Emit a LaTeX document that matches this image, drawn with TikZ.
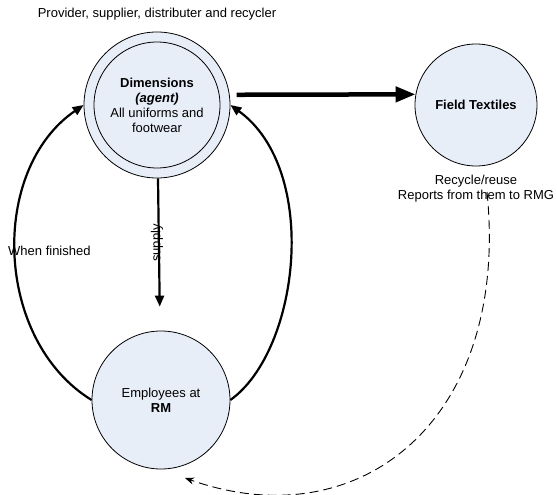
\documentclass[tikz,border=0pt]{standalone}
\usepackage{fontspec}
\setmainfont{Liberation Sans}
\usetikzlibrary{arrows.meta}
\definecolor{cfill}{RGB}{232,238,248}
\begin{document}
\begin{tikzpicture}[x=1pt,y=-1pt,
  circ/.style={circle,draw=black,line width=0.8pt,fill=cfill,inner sep=0pt,align=center,font=\fontsize{13}{15}\selectfont},
  lbl/.style={align=center,font=\fontsize{13}{15}\selectfont,inner sep=0pt},
  conn/.style={line width=2.2pt,-{Triangle[length=11pt,width=9pt]}},
  bigconn/.style={line width=4.5pt,-{Triangle[length=20pt,width=15pt]}},
  dashconn/.style={line width=0.9pt,dash pattern=on 9pt off 5pt,-{Stealth[length=9pt,width=7pt]}}
]
\useasboundingbox (0,0) rectangle (557,495);
\node[circ,minimum size=146pt] (dim) at (157,105) {};
\node[circ,minimum size=126pt] (dimin) at (157,105) {\textbf{Dimensions}\\\textbf{\textit{(agent)}}\\All uniforms and\\footwear};
\node[circ,minimum size=122pt] (ft) at (476,105) {\textbf{Field Textiles}};
\node[circ,minimum size=138pt] (emp) at (161,400) {Employees at\\\textbf{RM}};
\node[lbl] (top) at (157,14) {Provider, supplier, distributer and recycler};
\node[lbl] (rec) at (476,188.5) {Recycle/reuse\\Reports from them to RMG};
\node[lbl,anchor=west] (wf) at (8,251) {When finished};
\draw[conn,shorten >=24pt] (dim) -- (emp);
\node[lbl,rotate=90] (sup) at (157,243) {supply};
\draw[bigconn,shorten <=7pt] (dim.8) -- (ft.170.5);
\draw[conn] (emp.west) .. controls (-6,340) and (-11,170) .. (dim.west);
\draw[conn] (emp.east) .. controls (300,350) and (320,170) .. (dim.east);
\coordinate (ds) at (487,192);
\coordinate (de) at (185,478);
\draw[dashconn] (ds) .. controls (510,420) and (360,540) .. (de);
\end{tikzpicture}
\end{document}
